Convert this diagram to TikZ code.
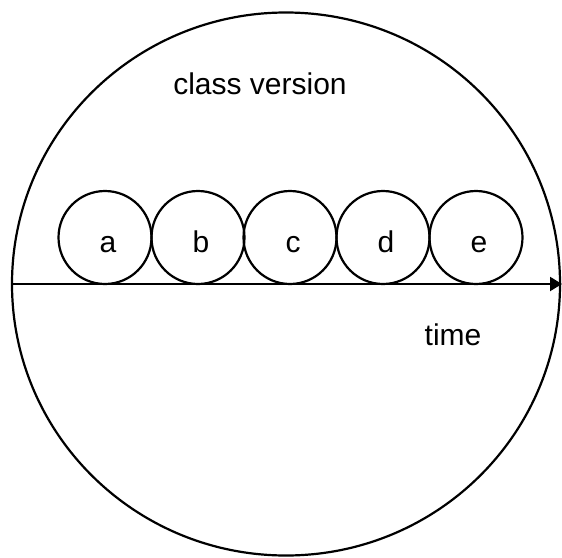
\documentclass[tikz,border=0pt]{standalone}
\usepackage{fontspec}
\setmainfont{Liberation Sans}
\usetikzlibrary{shapes.geometric,arrows.meta,calc}
\begin{document}
\begin{tikzpicture}[x=1pt,y=-1pt,
  ball/.style={circle,draw,line width=2.2pt,minimum size=93pt,inner sep=0pt},
  lbl/.style={font=\fontsize{30}{34}\selectfont,inner sep=0pt,anchor=base},
  txt/.style={font=\fontsize{30}{34}\selectfont,inner sep=0pt}]
\useasboundingbox (0,0) rectangle (562,557);
\node[ellipse,draw,line width=2.2pt,minimum width=548pt,minimum height=543pt,inner sep=0pt] (big) at (286,284) {};
\coordinate (tend) at (562,284);
\draw[line width=2.2pt,-{Triangle[length=12pt,width=14pt]}] (big.west) -- (tend);
\foreach \n/\x in {a/105,b/198,c/290,d/383,e/476}{
  \node[ball] (\n) at (\x,237.5) {};
  \node[lbl] (l\n) at ($(\n.center)+(3,15)$) {\n};
}
\node[txt] (title) at (260,84) {class version};
\node[txt] (time) at (453,335) {time};
\end{tikzpicture}
\end{document}
